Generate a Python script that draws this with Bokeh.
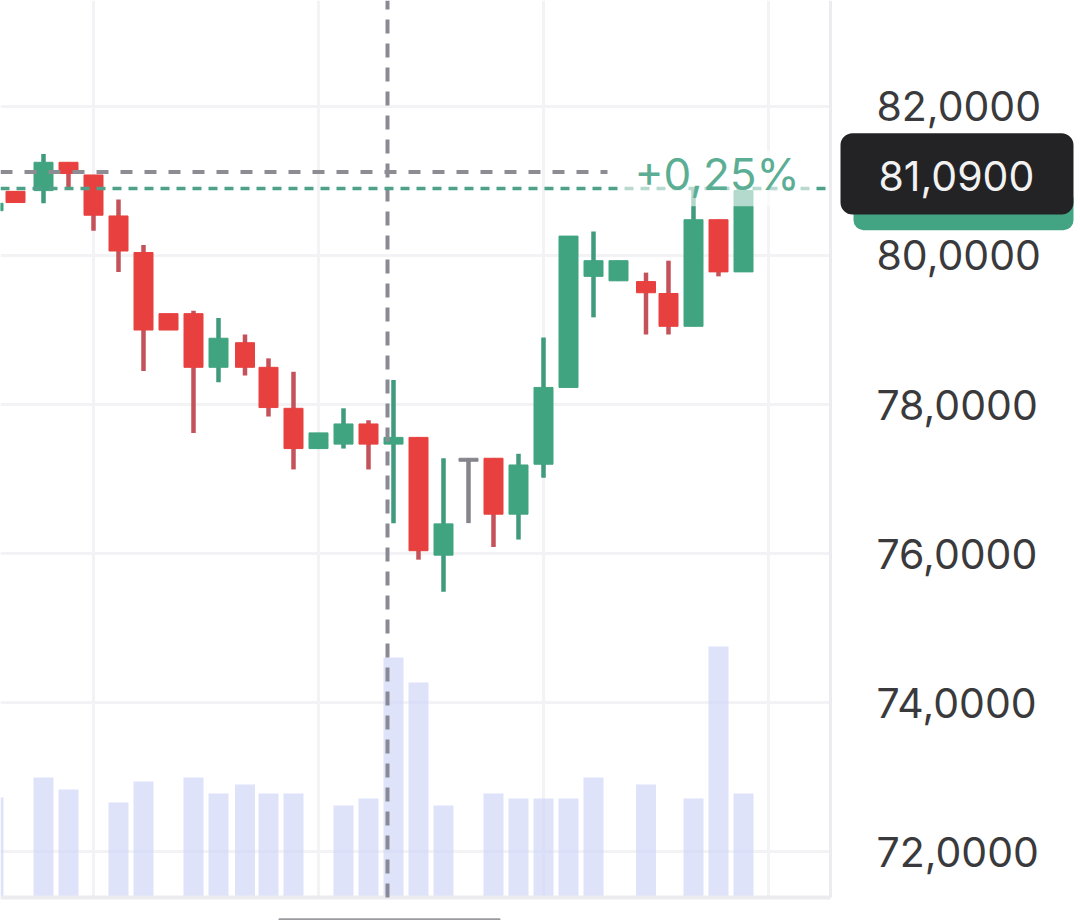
from bokeh.embed import file_html
from bokeh.models import BoxAnnotation, ColumnDataSource, FixedTicker, Label, Range1d
from bokeh.plotting import figure
from bokeh.resources import INLINE

slots = [-2, -1.12, 0, 1, 2, 3, 4, 5, 6, 7, 8.06, 9, 10, 11, 12, 13,
         14, 15, 16, 17, 18, 19, 20, 21, 22, 23, 24.1, 25, 26, 27, 28]
opens = [80.60, 80.86, 80.87, 81.25, 81.08, 80.53, 80.04, 79.22, 79.22, 78.50, 78.83, 78.50, 77.95, 77.41, 77.47, 77.74,
         77.47, 77.56, 75.98, 77.28, 77.28, 76.53, 77.20, 78.23, 79.72, 79.66, 79.65, 79.49, 79.05, 80.48, 79.78]
closes = [80.70, 80.71, 81.25, 81.10, 80.54, 80.06, 79.00, 79.00, 78.50, 78.89, 78.50, 77.96, 77.41, 77.62, 77.74, 77.47,
          77.56, 76.04, 76.40, 77.24, 76.53, 77.19, 78.23, 80.26, 79.93, 79.93, 79.50, 79.05, 80.48, 79.78, 80.87]
highs = [80.70, 80.86, 81.36, 81.25, 81.08, 80.75, 80.14, 79.22, 79.26, 79.16, 78.94, 78.62, 78.44, 77.62, 77.95, 77.79,
         78.33, 77.56, 77.28, 77.28, 77.28, 77.34, 78.90, 80.26, 80.32, 79.93, 79.77, 79.93, 80.92, 80.48, 80.87]
lows = [80.60, 80.71, 80.70, 80.92, 80.33, 79.78, 78.45, 79.00, 77.62, 78.30, 78.39, 77.84, 77.13, 77.41, 77.41, 77.13,
        76.41, 75.92, 75.49, 76.41, 76.09, 76.19, 77.02, 78.23, 79.17, 79.66, 78.94, 78.94, 79.05, 79.72, 79.78]
volumes = [100, 0, 120, 108, 0, 95, 116, 0, 120, 104, 113, 104, 104, 0, 92, 99,
           240, 215, 92, 0, 104, 99, 99, 99, 120, 0, 113, 0, 99, 251, 104]

price_ticks = [72, 74, 76, 78, 80, 82]
tick_labels = ["72,0000", "74,0000", "76,0000", "78,0000", "80,0000", "82,0000"]
time_ticks = [2, 11, 20, 29]

# edges of the chart area inside the frame; the frame itself runs on under the price tag
X_LEFT = -1.72
X_EDGE = 31.48
X_RIGHT = 41.48
Y_EDGE = 71.39
Y_TOP = 83.42
Y_BOTTOM = 71.08

GREEN = "#41a480"
RED = "#e8403f"
GREY = "#85858c"
FONT = "Inter"

body_colors = []
wick_colors = []
for o, c in zip(opens, closes):
    if abs(o - c) < 0.05:
        body_colors.append(GREY)
        wick_colors.append(GREY)
    elif c > o:
        body_colors.append(GREEN)
        wick_colors.append("#3f9a7e")
    else:
        body_colors.append(RED)
        wick_colors.append("#c4525a")

source = ColumnDataSource(data=dict(x=slots, open=opens, close=closes, high=highs, low=lows,
                                     volume=volumes, body=body_colors, wick=wick_colors))

p = figure(width=1080, height=920, output_backend="svg", toolbar_location=None,
           x_range=Range1d(X_LEFT, X_RIGHT), y_range=Range1d(Y_BOTTOM, Y_TOP), y_axis_location="right",
           min_border_left=0, min_border_top=0, min_border_right=0, min_border_bottom=0)
p.extra_y_ranges = {"vol": Range1d(-23, 897)}
p.outline_line_color = None
p.background_fill_color = "white"
p.border_fill_color = "white"

p.xaxis.visible = False
p.xgrid.ticker = FixedTicker(ticks=time_ticks)
p.ygrid.ticker = FixedTicker(ticks=price_ticks)
p.grid.grid_line_color = "#f3f3f6"
p.grid.grid_line_width = 3

p.yaxis.fixed_location = X_EDGE
p.yaxis.ticker = FixedTicker(ticks=price_ticks)
p.yaxis.major_label_overrides = dict(zip(price_ticks, tick_labels))
p.yaxis.major_label_text_font = FONT
p.yaxis.major_label_text_font_size = "41px"
p.yaxis.major_label_text_color = "#3a3a3c"
p.yaxis.major_label_standoff = 40
p.yaxis.major_tick_line_color = None
p.yaxis.minor_tick_line_color = None
p.yaxis.axis_line_color = None

# white strips hide the grid past the chart edges, then the edge lines go on top
p.add_layout(BoxAnnotation(left=X_EDGE, fill_color="white", fill_alpha=1, line_color=None, level="underlay"))
p.add_layout(BoxAnnotation(top=Y_EDGE, fill_color="white", fill_alpha=1, line_color=None, level="underlay"))

p.vbar(x="x", top="volume", bottom=0, width=0.8, source=source, y_range_name="vol",
       fill_color="#c9d2f7", fill_alpha=0.62, line_color=None)
p.line(x=[X_EDGE, X_EDGE], y=[Y_EDGE, Y_TOP], line_color="#ececf0", line_width=3)
p.line(x=[X_LEFT, X_EDGE], y=[Y_EDGE, Y_EDGE], line_color="#ececf0", line_width=4)
p.segment(x0="x", x1="x", y0="low", y1="high", source=source, line_color="wick", line_width=4.5)
p.vbar(x="x", top="open", bottom="close", width=0.76, source=source, fill_color="body", line_color="body", line_width=1)

# crosshair and price lines
p.line(x=[13.76, 13.76], y=[Y_EDGE, Y_TOP], line_color="#8a8a96", line_width=4, line_dash="14 10")
p.line(x=[X_LEFT, 22.56], y=[81.12, 81.12], line_color="#8c8c92", line_width=4, line_dash="12 12")
p.line(x=[X_LEFT, X_EDGE], y=[80.90, 80.90], line_color="#4fa088", line_width=3.5, line_dash="9 7")

# haze behind the percentage label
p.add_layout(BoxAnnotation(left=23.0, right=30.9, top=81.41, bottom=80.66, fill_color="white", fill_alpha=0.6,
                           line_color=None))
p.add_layout(Label(x=23.64, y=81.09, text="+0,25%", text_font=FONT, text_font_size="44px", text_color="#5bae93",
                   text_baseline="middle"))

# price tag
p.add_layout(BoxAnnotation(left=32.4, right=41.2, top=80.9, bottom=80.34, fill_color="#42a482", fill_alpha=1,
                           line_color=None, border_radius=10))
p.add_layout(BoxAnnotation(left=31.88, right=41.2, top=81.64, bottom=80.55, fill_color="#232326", fill_alpha=1,
                           line_color=None, border_radius=12))
p.add_layout(Label(x=33.4, y=81.07, text="81,0900", text_font=FONT, text_font_size="41px", text_color="#f2f2f2",
                   text_baseline="middle"))

# scroll handle at the very bottom
p.add_layout(BoxAnnotation(left=9.4, right=18.28, top=71.11, fill_color="#9a9a9e", fill_alpha=1,
                           line_color=None, border_radius=3))

open("out.html", "w").write(file_html(p, INLINE))
